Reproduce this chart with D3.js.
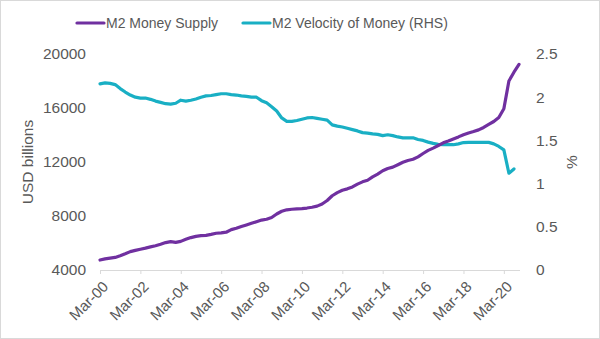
<!DOCTYPE html>
<html>
<head>
<meta charset="utf-8">
<script src="https://cdn.jsdelivr.net/npm/d3@7/dist/d3.min.js"></script>
<style>
  html, body { margin: 0; padding: 0; background: #fff; }
  svg { display: block; font-family: "Liberation Sans", Arial, sans-serif; }
</style>
</head>
<body>
<svg id="chart" width="600" height="339"></svg>
<script>
// Quarterly categories Mar-00 .. Dec-20
const years = d3.range(0, 21).map(y => String(y).padStart(2, "0"));
const months = ["Mar", "Jun", "Sep", "Dec"];
const categories = years.flatMap(y => months.map(m => m + "-" + y));

const tickLabels = ["Mar-00","Mar-02","Mar-04","Mar-06","Mar-08","Mar-10","Mar-12","Mar-14","Mar-16","Mar-18","Mar-20"];

// M2 Money Supply (USD billions), left axis
const m2Supply = [
  4740,4820,4880,4930, 5050,5200,5360,5450, 5540,5620,5710,5800, 5910,6030,6100,6050,
  6120,6270,6400,6490, 6540,6570,6640,6720, 6750,6800,6990,7090, 7220,7340,7460,7580,
  7700,7760,7890,8150, 8350,8460,8500,8530, 8550,8590,8650,8730, 8890,9150,9500,9730,
  9910,10010,10150,10360, 10530,10650,10900,11100, 11350,11520,11620,11800, 11980,12110,12200,12380,
  12630,12860,13030,13220, 13420,13560,13710,13860, 14020,14150,14260,14380, 14560,14780,15000,15300,
  15950,18000,18650,19230
];

// M2 Velocity of Money (RHS, %)
const m2Velocity = [
  2.155,2.165,2.16,2.146, 2.10,2.06,2.025,2.00, 1.99,1.99,1.975,1.955, 1.94,1.925,1.92,1.93,
  1.965,1.955,1.965,1.98, 2.00,2.015,2.02,2.03, 2.04,2.04,2.03,2.025, 2.015,2.01,2.00,2.00,
  1.96,1.935,1.89,1.84, 1.76,1.72,1.72,1.73, 1.745,1.76,1.765,1.755, 1.745,1.735,1.68,1.665,
  1.655,1.64,1.625,1.61, 1.59,1.585,1.575,1.57, 1.555,1.565,1.555,1.54, 1.53,1.53,1.53,1.51,
  1.50,1.48,1.465,1.455, 1.45,1.45,1.45,1.46, 1.475,1.477,1.477,1.477, 1.477,1.477,1.46,1.43,
  1.39,1.12,1.17
];

const leftTicks = [4000, 8000, 12000, 16000, 20000];
const rightTicks = [0, 0.5, 1, 1.5, 2, 2.5];

const svg = d3.select("#chart");
const W = 600, H = 339;
const textColor = "#595959";
const purple = "#7030A0";
const cyan = "#19AFC4";

// border
svg.append("rect").attr("x", 0.5).attr("y", 0.5).attr("width", W - 1).attr("height", H - 1)
  .attr("fill", "#fff").attr("stroke", "#d9d9d9");

const x = d3.scalePoint().domain(categories).range([100, 519]);
const yL = d3.scaleLinear().domain([4000, 20000]).range([270, 54]);
const yR = d3.scaleLinear().domain([0, 2.5]).range([270, 54]);

// x axis
const xAxis = d3.axisBottom(x).tickValues(tickLabels).tickSize(4).tickSizeOuter(0).tickPadding(4);
const gx = svg.append("g").attr("transform", "translate(0,270)").call(xAxis);
gx.select(".domain").attr("stroke", "#d9d9d9").attr("d", "M100,0.5H520");
gx.selectAll(".tick line").attr("stroke", "#d9d9d9");
gx.selectAll(".tick text")
  .attr("fill", textColor).attr("font-size", "15px")
  .attr("text-anchor", "end")
  .attr("dy", "0.35em")
  .attr("transform", "translate(5,14) rotate(-45)")
  .attr("y", 0).attr("x", 0);

// left axis
const gl = svg.append("g").attr("transform", "translate(86,0)")
  .call(d3.axisLeft(yL).tickValues(leftTicks).tickSize(0).tickPadding(0).tickFormat(d3.format("d")));
gl.select(".domain").remove();
gl.selectAll(".tick text").attr("fill", textColor).attr("font-size", "15.5px");

// right axis
const gr = svg.append("g").attr("transform", "translate(536,0)")
  .call(d3.axisRight(yR).tickValues(rightTicks).tickSize(0).tickPadding(0).tickFormat(d => String(d)));
gr.select(".domain").remove();
gr.selectAll(".tick text").attr("fill", textColor).attr("font-size", "15.5px");

// axis titles
svg.append("text").attr("transform", "translate(33,162) rotate(-90)")
  .attr("text-anchor", "middle").attr("fill", textColor).attr("font-size", "15.5px")
  .text("USD billions");
svg.append("text").attr("transform", "translate(577,162) rotate(-90)")
  .attr("text-anchor", "middle").attr("fill", textColor).attr("font-size", "15.5px")
  .text("%");

// lines
const lineL = d3.line().x((d, i) => x(categories[i])).y(d => yL(d));
const lineR = d3.line().x((d, i) => x(categories[i])).y(d => yR(d));

svg.append("path").datum(m2Velocity).attr("d", lineR)
  .attr("fill", "none").attr("stroke", cyan).attr("stroke-width", 3.2)
  .attr("stroke-linejoin", "round").attr("stroke-linecap", "round");
svg.append("path").datum(m2Supply).attr("d", lineL)
  .attr("fill", "none").attr("stroke", purple).attr("stroke-width", 3.2)
  .attr("stroke-linejoin", "round").attr("stroke-linecap", "round");

// legend
const legend = [
  { name: "M2 Money Supply", color: purple, x: 77 },
  { name: "M2 Velocity of Money (RHS)", color: cyan, x: 243 }
];
const lg = svg.append("g");
legend.forEach(l => {
  lg.append("line").attr("x1", l.x).attr("x2", l.x + 27).attr("y1", 23).attr("y2", 23)
    .attr("stroke", l.color).attr("stroke-width", 3.2).attr("stroke-linecap", "round");
  lg.append("text").attr("x", l.x + 29).attr("y", 28).attr("fill", textColor)
    .attr("font-size", "14px").text(l.name);
});
</script>
</body>
</html>
